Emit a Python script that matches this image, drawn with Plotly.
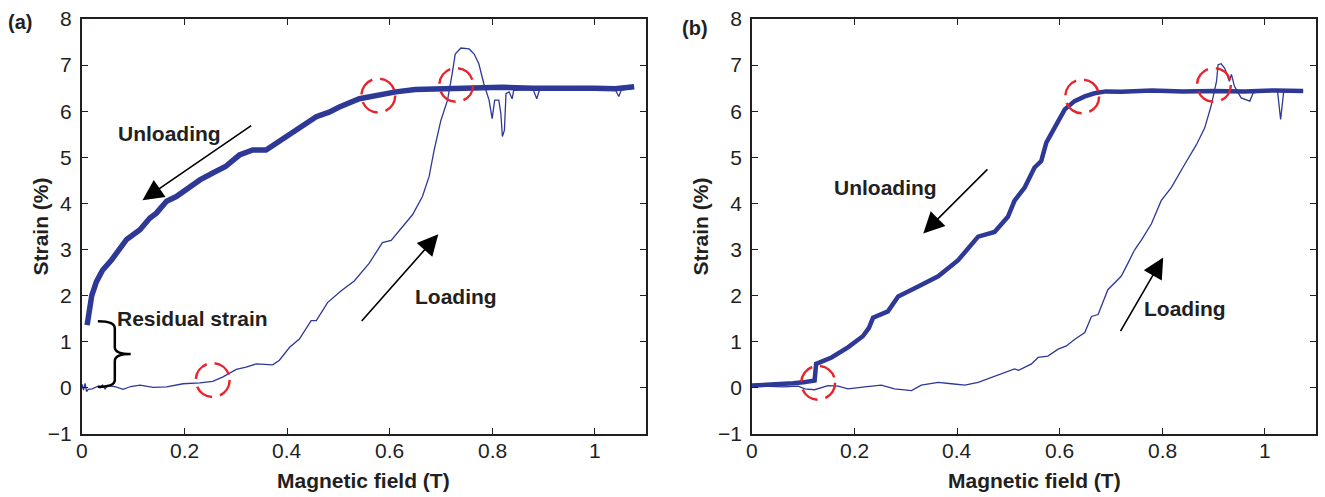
import plotly.graph_objects as go

# ---------------- data ----------------
# (a) unloading branch (thick) and loading branch (thin)
a_unload_x = [0.010, 0.013, 0.019, 0.028, 0.040, 0.058, 0.074, 0.087, 0.113, 0.132, 0.145,
              0.165, 0.184, 0.204, 0.230, 0.255, 0.280, 0.307, 0.333, 0.359, 0.392, 0.424,
              0.457, 0.482, 0.502, 0.541, 0.580, 0.612, 0.650, 0.710, 0.760, 0.820, 0.880,
              0.940, 1.000, 1.040, 1.077]
a_unload_y = [1.36, 1.62, 2.00, 2.30, 2.55, 2.78, 3.00, 3.22, 3.43, 3.68, 3.79,
              4.05, 4.15, 4.30, 4.51, 4.66, 4.80, 5.05, 5.16, 5.16, 5.41, 5.66,
              5.88, 5.98, 6.09, 6.27, 6.36, 6.42, 6.47, 6.49, 6.50, 6.52, 6.50,
              6.51, 6.50, 6.49, 6.53]

a_load_x = [0.000, 0.003, 0.006, 0.009, 0.012, 0.020, 0.030, 0.035, 0.040, 0.045, 0.050,
            0.066, 0.080, 0.095, 0.113, 0.139, 0.165, 0.197, 0.230, 0.255, 0.275, 0.301,
            0.320, 0.340, 0.372, 0.385, 0.405, 0.424, 0.447, 0.457, 0.479, 0.505, 0.531,
            0.560, 0.586, 0.603, 0.645, 0.664, 0.677, 0.687, 0.700, 0.713, 0.722, 0.728,
            0.739, 0.755, 0.765, 0.774, 0.784, 0.794, 0.800, 0.805, 0.813, 0.817, 0.820,
            0.824, 0.827, 0.833, 0.839, 0.842, 0.880, 0.887, 0.892, 0.950, 1.000, 1.040,
            1.047, 1.052, 1.077]
a_load_y = [0.08, -0.05, 0.10, -0.08, -0.03, -0.02, 0.03, 0.00, 0.06, -0.02, 0.05,
            0.02, -0.03, 0.03, 0.06, 0.01, 0.02, 0.09, 0.11, 0.14, 0.24, 0.40,
            0.45, 0.52, 0.50, 0.60, 0.88, 1.06, 1.46, 1.46, 1.85, 2.10, 2.32,
            2.70, 3.15, 3.20, 3.76, 4.15, 4.58, 5.16, 5.80, 6.24, 6.81, 7.24,
            7.37, 7.35, 7.24, 7.03, 6.59, 6.24, 5.84, 6.24, 6.24, 5.95, 5.45,
            5.59, 6.38, 6.42, 6.27, 6.45, 6.47, 6.27, 6.45, 6.49, 6.48, 6.47,
            6.32, 6.46, 6.50]

# (b) unloading branch (thick) and loading branch (thin)
b_unload_x = [0.000, 0.020, 0.050, 0.080, 0.100, 0.122, 0.125, 0.140, 0.155, 0.187, 0.216,
              0.228, 0.236, 0.265, 0.285, 0.324, 0.363, 0.402, 0.441, 0.473, 0.499, 0.512,
              0.532, 0.551, 0.564, 0.574, 0.584, 0.597, 0.610, 0.629, 0.649, 0.668, 0.690,
              0.720, 0.780, 0.840, 0.900, 0.960, 1.020, 1.075]
b_unload_y = [0.05, 0.06, 0.07, 0.10, 0.12, 0.16, 0.52, 0.58, 0.66, 0.88, 1.12,
              1.30, 1.52, 1.66, 1.98, 2.20, 2.42, 2.77, 3.28, 3.38, 3.71, 4.06,
              4.35, 4.78, 4.92, 5.32, 5.50, 5.78, 6.04, 6.22, 6.32, 6.39, 6.43,
              6.42, 6.45, 6.43, 6.44, 6.43, 6.45, 6.44]

b_load_x = [0.000, 0.030, 0.060, 0.090, 0.103, 0.122, 0.148, 0.168, 0.187, 0.220, 0.252,
            0.278, 0.311, 0.330, 0.363, 0.389, 0.415, 0.441, 0.467, 0.512, 0.520, 0.545,
            0.558, 0.577, 0.597, 0.613, 0.629, 0.649, 0.662, 0.675, 0.694, 0.720, 0.733,
            0.746, 0.759, 0.779, 0.798, 0.818, 0.844, 0.867, 0.883, 0.896, 0.906, 0.909,
            0.915, 0.922, 0.931, 0.935, 0.941, 0.954, 0.971, 0.977, 0.990, 1.025, 1.031,
            1.037, 1.075]
b_load_y = [0.05, 0.03, 0.02, 0.04, -0.02, -0.04, 0.05, 0.04, -0.02, 0.02, 0.06,
            -0.02, -0.06, 0.06, 0.12, 0.09, 0.06, 0.12, 0.23, 0.41, 0.38, 0.52,
            0.66, 0.69, 0.84, 0.91, 1.05, 1.20, 1.55, 1.59, 2.13, 2.42, 2.70,
            2.99, 3.20, 3.56, 4.06, 4.35, 4.85, 5.28, 5.64, 6.14, 6.65, 7.01,
            7.03, 6.93, 6.65, 6.80, 6.54, 6.29, 6.22, 6.39, 6.43, 6.43, 5.82,
            6.43, 6.44]

# transition points marked with dashed circles (field T, strain %)
a_marks = [(0.255, 0.17), (0.578, 6.34), (0.730, 6.57)]
b_marks = [(0.129, 0.11), (0.644, 6.32), (0.901, 6.57)]

x_ticks = [0, 0.2, 0.4, 0.6, 0.8, 1.0]
x_tick_text = ["0", "0.2", "0.4", "0.6", "0.8", "1"]
y_ticks = list(range(-1, 9))

# ---------------- styling ----------------
BLUE = "#2e3896"
RED = "#e8242b"
INK = "#231f20"
FONT = "Liberation Sans, Arial, sans-serif"

fig = go.Figure()

def add_branches(xa, ya, ux, uy, lx, ly, thick):
    fig.add_trace(go.Scatter(x=ux, y=uy, mode="lines", xaxis=xa, yaxis=ya,
                             line=dict(color=BLUE, width=thick), showlegend=False,
                             hoverinfo="skip"))
    fig.add_trace(go.Scatter(x=lx, y=ly, mode="lines", xaxis=xa, yaxis=ya,
                             line=dict(color=BLUE, width=1.3), showlegend=False,
                             hoverinfo="skip"))

add_branches("x", "y", a_unload_x, a_unload_y, a_load_x, a_load_y, 5.5)
add_branches("x2", "y2", b_unload_x, b_unload_y, b_load_x, b_load_y, 4.5)

# dashed circles (radius ~17 px in both directions)
RX, RY = 0.033, 0.366
for xr, yr, marks in (("x", "y", a_marks), ("x2", "y2", b_marks)):
    for cx, cy in marks:
        fig.add_shape(type="circle", xref=xr, yref=yr,
                      x0=cx - RX, x1=cx + RX, y0=cy - RY, y1=cy + RY,
                      line=dict(color=RED, width=2.5, dash="19px,8px"))

# curly brace marking the residual strain in (a)
fig.add_shape(type="path", xref="x", yref="y",
              path="M 0.031,1.444 Q 0.064,1.444 0.064,1.29 L 0.064,0.88 "
                   "Q 0.064,0.733 0.095,0.733 Q 0.064,0.733 0.064,0.58 "
                   "L 0.064,0.17 Q 0.064,0.022 0.031,0.022",
              line=dict(color="black", width=2.5))

bold = dict(family=FONT, size=21, color=INK, weight="bold")
tick_font = dict(family=FONT, size=21, color=INK)

def label(text, xr, yr, x, y):
    fig.add_annotation(text=text, xref=xr, yref=yr, x=x, y=y, showarrow=False,
                       font=bold, xanchor="center", yanchor="middle")

def arrow(xr, yr, tail, tip):
    fig.add_annotation(xref=xr, yref=yr, axref=xr, ayref=yr,
                       x=tip[0], y=tip[1], ax=tail[0], ay=tail[1], text="",
                       showarrow=True, arrowhead=2, arrowsize=2.6, arrowwidth=1.6,
                       arrowcolor="black")

label("Unloading", "x", "y", 0.171, 5.52)
label("Loading", "x", "y", 0.730, 1.98)
label("Residual strain", "x", "y", 0.216, 1.51)
arrow("x", "y", (0.333, 5.71), (0.118, 4.07))
arrow("x", "y", (0.543, 1.42), (0.695, 3.33))

label("Unloading", "x2", "y2", 0.261, 4.34)
label("Loading", "x2", "y2", 0.845, 1.72)
arrow("x2", "y2", (0.462, 4.77), (0.334, 3.35))
arrow("x2", "y2", (0.717, 1.20), (0.802, 2.83))

# field tick labels, set tight under the axis line
for xr in ("x", "x2"):
    for tv, tt in zip(x_ticks, x_tick_text):
        fig.add_annotation(text=tt, xref=xr, yref="paper", x=tv, y=0, yshift=-16,
                           showarrow=False, font=tick_font,
                           xanchor="center", yanchor="middle")

# panel tags and axis titles
DOM_A = [0.0, 0.457]
DOM_B = [0.543, 1.0]
for dom, tag, tag_dx, tag_dy, ytitle_dx in ((DOM_A, "(a)", -62, -3, -42),
                                            (DOM_B, "(b)", -57, -9, -52)):
    fig.add_annotation(text=tag, xref="paper", yref="paper", x=dom[0], y=1,
                       xshift=tag_dx, yshift=tag_dy, showarrow=False,
                       font=dict(family=FONT, size=20, color=INK, weight="bold"),
                       xanchor="center", yanchor="middle")
    fig.add_annotation(text="Magnetic field (T)", xref="paper", yref="paper",
                       x=(dom[0] + dom[1]) / 2, y=0, yshift=-46, showarrow=False,
                       font=bold, xanchor="center", yanchor="middle")
    fig.add_annotation(text="Strain (%)", xref="paper", yref="paper",
                       x=dom[0], y=0.5, xshift=ytitle_dx, showarrow=False,
                       textangle=-90, font=bold, xanchor="center", yanchor="middle")

axis_common = dict(showgrid=False, zeroline=False, showline=True, linewidth=2,
                   linecolor=INK, mirror="allticks", ticks="inside", ticklen=6,
                   tickwidth=1.2, tickcolor=INK, tickfont=tick_font)

xa = dict(axis_common, range=[0, 1.1], tickvals=x_ticks, showticklabels=False)
ya = dict(axis_common, range=[-1, 8], tickvals=y_ticks, ticklabelstandoff=4)

fig.update_layout(
    width=1325, height=497,
    margin=dict(l=82, r=7, t=15, b=63),
    paper_bgcolor="white", plot_bgcolor="white",
    xaxis=dict(xa, domain=DOM_A, anchor="y"),
    yaxis=dict(ya, domain=[0, 1], anchor="x"),
    xaxis2=dict(xa, domain=DOM_B, anchor="y2"),
    yaxis2=dict(ya, domain=[0, 1], anchor="x2"),
    showlegend=False,
)

fig.write_html("out.html")
